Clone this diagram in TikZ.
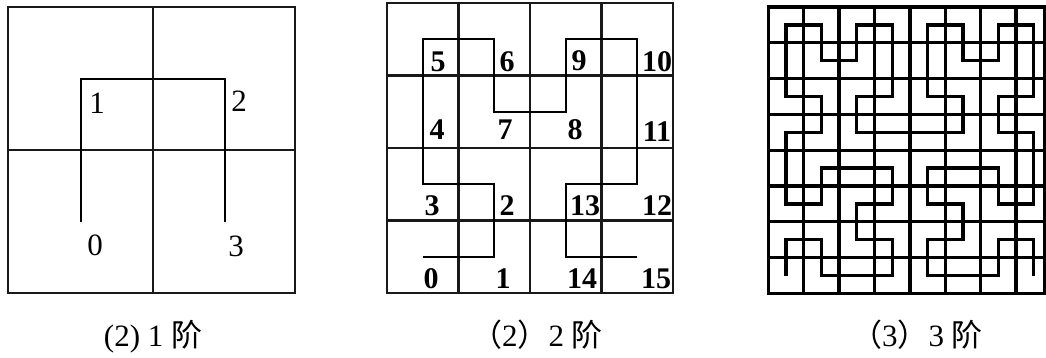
\documentclass[tikz,border=0pt]{standalone}
\usepackage{fontspec}
\setmainfont{Liberation Serif}
\newfontfamily\cjk{Noto Sans CJK SC}
\begin{document}
\begin{tikzpicture}[x=1pt,y=-1pt,
  gridline/.style={line width=2.6pt, black!90, line cap=rect},
  curveline/.style={line width=2.4pt, black, line join=miter},
  thickgrid/.style={line width=3.3pt, black, line cap=rect},
  thickcurve/.style={line width=3.3pt, black, line join=miter},
  numlabel/.style={font=\fontsize{31}{31}\selectfont, inner sep=0pt, anchor=base},
  boldlabel/.style={font=\bfseries\fontsize{30}{30}\selectfont, inner sep=0pt, anchor=base},
  caption/.style={font=\fontsize{31}{31}\selectfont, inner sep=0pt, anchor=base}]
\useasboundingbox[fill=white] (0,0) rectangle (1046,358);

% ---------------- panel 1 ----------------
\draw[gridline, line width=2.9pt] (8,7) rectangle (295,293);
\draw[gridline, line width=2.9pt] (153,7) -- (153,293) (8,150) -- (295,150);
\begin{scope}[shift={(81,222)}, x=144pt, y=143pt]
  \draw[curveline] (0,0) -- (0,1) -- (1,1) -- (1,0);
\end{scope}
\node[numlabel] (a1) at (97,114) {1};
\node[numlabel] (a2) at (239,112) {2};
\node[numlabel] (a0) at (95,255) {0};
\node[numlabel] (a3) at (236,256) {3};

% ---------------- panel 2 ----------------
\draw[gridline, line width=2.9pt] (387,3) rectangle (673,293);
\foreach \gx in {458.5,530,601.5}
  \draw[gridline] (\gx,3) -- (\gx,293);
\foreach \gy in {75.5,148,220.5}
  \draw[gridline] (387,\gy) -- (673,\gy);
\begin{scope}[shift={(422.75,256.75)}, x=71.5pt, y=72.5pt]
  \draw[curveline] (0,0) -- (1,0) -- (1,1) -- (0,1) -- (0,2) -- (0,3) -- (1,3) -- (1,2)
    -- (2,2) -- (2,3) -- (3,3) -- (3,2) -- (3,1) -- (2,1) -- (2,0) -- (3,0);
\end{scope}
\node[boldlabel] (b5) at (438,72) {5};
\node[boldlabel] (b6) at (507,72) {6};
\node[boldlabel] (b9) at (579,71) {9};
\node[boldlabel] (b10) at (657,72) {10};
\node[boldlabel] (b4) at (437,140) {4};
\node[boldlabel] (b7) at (505,140) {7};
\node[boldlabel] (b8) at (575,140) {8};
\node[boldlabel] (b11) at (657,142) {11};
\node[boldlabel] (b3) at (432,215) {3};
\node[boldlabel] (b2) at (507,215) {2};
\node[boldlabel] (b13) at (585,215) {13};
\node[boldlabel] (b12) at (657,215) {12};
\node[boldlabel] (b0) at (431,288) {0};
\node[boldlabel] (b1) at (503,288) {1};
\node[boldlabel] (b14) at (582,288) {14};
\node[boldlabel] (b15) at (656,288) {15};

% ---------------- panel 3 ----------------
\begin{scope}[shift={(786,275.5)}, x=35.4pt, y=35.8pt]
  \draw[thickgrid] (-0.5,-0.5) rectangle (7.3,7.5);
  \foreach \g in {0.5,1.5,...,6.5} {
    \draw[thickgrid] (\g,-0.5) -- (\g,7.5);
    \draw[thickgrid] (-0.5,\g) -- (7.3,\g);
  }
  \draw[thickcurve]
    (0,0) -- (0,1) -- (1,1) -- (1,0) -- (2,0) -- (3,0) -- (3,1) -- (2,1)
    -- (2,2) -- (3,2) -- (3,3) -- (2,3) -- (1,3) -- (1,2) -- (0,2) -- (0,3)
    -- (0,4) -- (1,4) -- (1,5) -- (0,5) -- (0,6) -- (0,7) -- (1,7) -- (1,6)
    -- (2,6) -- (2,7) -- (3,7) -- (3,6) -- (3,5) -- (2,5) -- (2,4) -- (3,4)
    -- (4,4) -- (5,4) -- (5,5) -- (4,5) -- (4,6) -- (4,7) -- (5,7) -- (5,6)
    -- (6,6) -- (6,7) -- (7,7) -- (7,6) -- (7,5) -- (6,5) -- (6,4) -- (7,4)
    -- (7,3) -- (7,2) -- (6,2) -- (6,3) -- (5,3) -- (4,3) -- (4,2) -- (5,2)
    -- (5,1) -- (4,1) -- (4,0) -- (5,0) -- (6,0) -- (6,1) -- (7,1) -- (7,0);
\end{scope}

% ---------------- captions ----------------
\node[caption] (cap1) at (153,346) {(2) 1 {\cjk 阶}};
\node[caption] (cap2) at (537,346) {{\cjk （}2{\cjk ）}2 {\cjk 阶}};
\node[caption] (cap3) at (917,346) {{\cjk （}3{\cjk ）}3 {\cjk 阶}};
\end{tikzpicture}
\end{document}
